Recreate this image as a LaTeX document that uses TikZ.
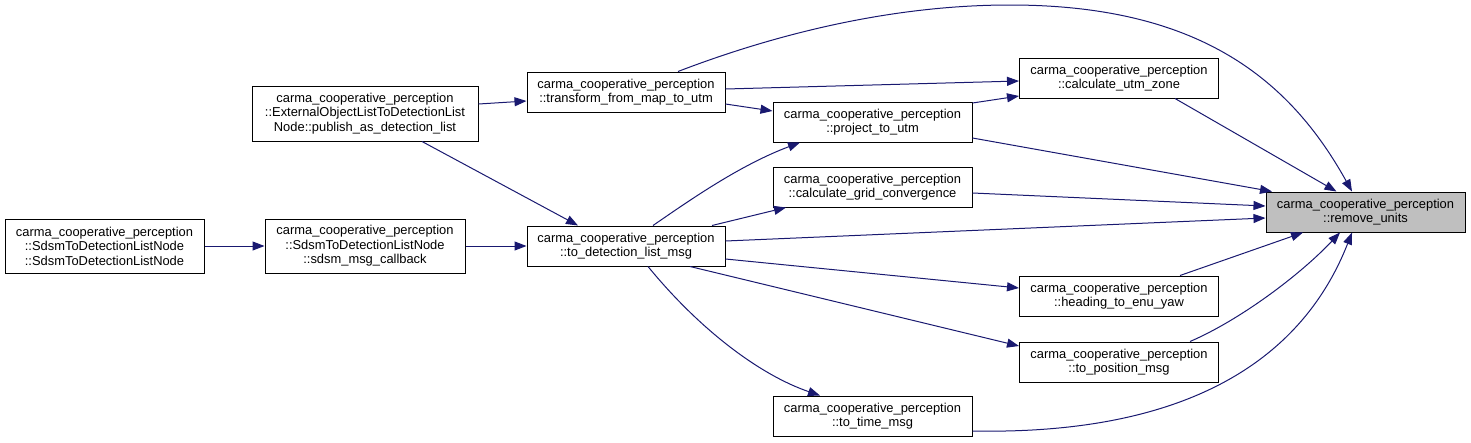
\documentclass[tikz,border=0pt]{standalone}
\usepackage{fontspec}
\setmainfont{Liberation Sans}
\usetikzlibrary{arrows.meta,calc}
\definecolor{edgeblue}{HTML}{191970}
\definecolor{hlgray}{HTML}{BFBFBF}
\begin{document}
\begin{tikzpicture}[x=1pt,y=-1pt,
  fn/.style={draw=black,line width=1pt,fill=white,rectangle,inner sep=0pt,
    minimum width=199pt,minimum height=40pt,align=center,
    font=\fontsize{12.9}{14.5}\selectfont},
  hl/.style={fn,fill=hlgray},
  call/.style={draw=edgeblue,line width=1pt,
    -{Triangle[length=12pt,width=9pt]}}]
\useasboundingbox (0,0) rectangle (1471,442);

\node[fn,minimum width=226pt,minimum height=55pt] (ext) at (365,113.5)
  {carma\_cooperative\_perception\\::ExternalObjectListToDetectionList\\Node::publish\_as\_detection\_list};
\node[fn,minimum height=54pt] (sdsm) at (104.5,246)
  {carma\_cooperative\_perception\\::SdsmToDetectionListNode\\::SdsmToDetectionListNode};
\node[fn,minimum width=200pt,minimum height=54pt] (cb) at (365,246)
  {carma\_cooperative\_perception\\::SdsmToDetectionListNode\\::sdsm\_msg\_callback};
\node[fn,minimum width=198pt] (tr) at (626,92)
  {carma\_cooperative\_perception\\::transform\_from\_map\_to\_utm};
\node[fn] (pr) at (872.5,122)
  {carma\_cooperative\_perception\\::project\_to\_utm};
\node[fn] (gc) at (872.5,187)
  {carma\_cooperative\_perception\\::calculate\_grid\_convergence};
\node[fn,minimum width=198pt] (td) at (626,246)
  {carma\_cooperative\_perception\\::to\_detection\_list\_msg};
\node[fn] (uz) at (1119,78)
  {carma\_cooperative\_perception\\::calculate\_utm\_zone};
\node[hl] (ru) at (1365.5,212)
  {carma\_cooperative\_perception\\::remove\_units};
\node[fn] (hd) at (1119,296)
  {carma\_cooperative\_perception\\::heading\_to\_enu\_yaw};
\node[fn] (ps) at (1119,362)
  {carma\_cooperative\_perception\\::to\_position\_msg};
\node[fn] (tm) at (872.5,416)
  {carma\_cooperative\_perception\\::to\_time\_msg};

% edges
\draw[call] (sdsm.east) -- (cb.west);
\draw[call] (cb.east) -- (td.west);
\draw[call] ([yshift=9.5pt]ext.east) -- ([yshift=-9pt]tr.west);
\draw[call] ([xshift=57pt]ext.south) -- ([xshift=-48pt]td.north);
\draw[call] ([yshift=-12pt]tr.east) -- ([yshift=11pt]pr.west);
\draw[call] ([yshift=3pt]tr.east) -- ([yshift=-3pt]uz.west);
\draw[call] ([yshift=19pt]pr.east) -- ([yshift=-18pt]uz.west);
\draw[call] ([xshift=52pt]tr.north) .. controls (760,40) and (880,5) .. (1010,5)
  .. controls (1200,5) and (1290,80) .. ([xshift=-13.5pt]ru.north);
\draw[call] ([xshift=56pt]uz.south) -- ([xshift=-29pt]ru.north);
\draw[call] ([yshift=-16pt]pr.east) -- ([xshift=-93.5pt]ru.north);
\draw[call] ([yshift=-6pt]gc.east) -- ([yshift=6pt]ru.west);
\draw[call] ([yshift=5pt]td.east) -- ([yshift=-6pt]ru.west);
\draw[call] ([xshift=27pt]td.north) .. controls (690,200) and (740,165) .. ([xshift=-72.5pt]pr.south);
\draw[call] ([xshift=86pt]td.north) -- ([xshift=-86.5pt]gc.south);
\draw[call] ([yshift=-13pt]td.east) -- ([yshift=8pt]hd.west);
\draw[call] ([xshift=64pt]td.south) -- ([yshift=16pt]ps.west);
\draw[call] ([xshift=22pt]td.south) .. controls (700,330) and (760,375) .. ([xshift=-52.5pt]tm.north);
\draw[call] ([xshift=61pt]hd.north) -- ([xshift=-62.5pt]ru.south);
\draw[call] ([xshift=71pt]ps.north) .. controls (1240,320) and (1300,275) .. ([xshift=-25.5pt]ru.south);
\draw[call] ([yshift=-15pt]tm.east) .. controls (1180,435) and (1300,365) .. ([xshift=-13.5pt]ru.south);
\end{tikzpicture}
\end{document}
